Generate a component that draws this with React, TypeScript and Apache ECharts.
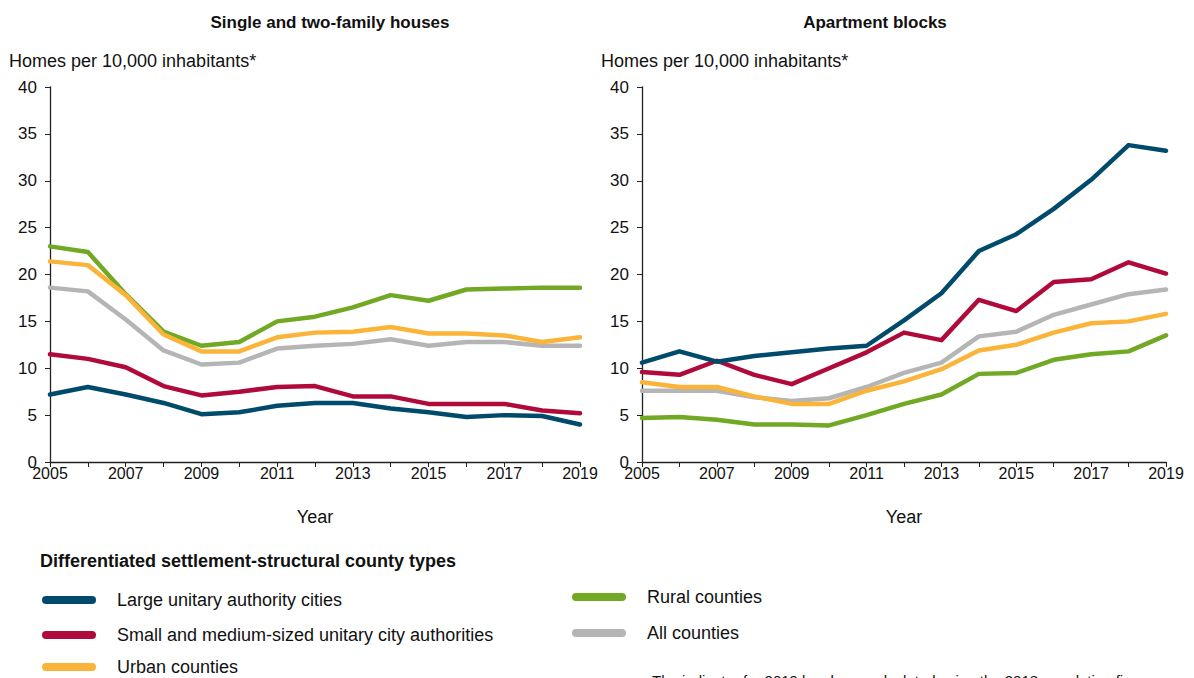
import React, { useEffect, useRef } from "react";
import * as echarts from "echarts";

const years = ["2005","2006","2007","2008","2009","2010","2011","2012","2013","2014","2015","2016","2017","2018","2019"];

const seriesNames = [
  "Large unitary authority cities",
  "Small and medium-sized unitary city authorities",
  "Urban counties",
  "Rural counties",
  "All counties",
];
const colors = ["#004b6b", "#b00a3b", "#fbb43a", "#71a824", "#b5b5b5"];

// Single and two-family houses
const houseLarge = [7.2, 8.0, 7.2, 6.3, 5.1, 5.3, 6.0, 6.3, 6.3, 5.7, 5.3, 4.8, 5.0, 4.9, 4.0];
const houseSmall = [11.5, 11.0, 10.1, 8.1, 7.1, 7.5, 8.0, 8.1, 7.0, 7.0, 6.2, 6.2, 6.2, 5.5, 5.2];
const houseUrban = [21.4, 21.0, 17.8, 13.6, 11.8, 11.8, 13.3, 13.8, 13.9, 14.4, 13.7, 13.7, 13.5, 12.8, 13.3];
const houseRural = [23.0, 22.4, 17.9, 13.9, 12.4, 12.8, 15.0, 15.5, 16.5, 17.8, 17.2, 18.4, 18.5, 18.6, 18.6];
const houseAll = [18.6, 18.2, 15.2, 11.9, 10.4, 10.6, 12.1, 12.4, 12.6, 13.1, 12.4, 12.8, 12.8, 12.4, 12.4];

// Apartment blocks
const aptLarge = [10.6, 11.8, 10.7, 11.3, 11.7, 12.1, 12.4, 15.1, 18.0, 22.5, 24.3, 27.0, 30.1, 33.8, 33.2];
const aptSmall = [9.6, 9.3, 10.8, 9.3, 8.3, 10.0, 11.7, 13.8, 13.0, 17.3, 16.1, 19.2, 19.5, 21.3, 20.1];
const aptUrban = [8.5, 8.0, 8.0, 7.0, 6.2, 6.2, 7.6, 8.6, 9.9, 11.9, 12.5, 13.8, 14.8, 15.0, 15.8];
const aptRural = [4.7, 4.8, 4.5, 4.0, 4.0, 3.9, 5.0, 6.2, 7.2, 9.4, 9.5, 10.9, 11.5, 11.8, 13.5];
const aptAll = [7.6, 7.6, 7.6, 6.9, 6.5, 6.8, 8.0, 9.5, 10.6, 13.4, 13.9, 15.7, 16.8, 17.9, 18.4];

const panelTitles = ["Single and two-family houses", "Apartment blocks"];
const yAxisTitle = "Homes per 10,000 inhabitants*";
const xAxisTitle = "Year";
const legendTitle = "Differentiated settlement-structural county types";
const footnote = "The indicator for 2019 has been calculated using the 2018 population figures";

const FONT = "'Liberation Sans Narrow', 'Arial Narrow', 'Liberation Sans', sans-serif";

export default function App() {
  const ref = useRef<HTMLDivElement>(null);
  useEffect(() => {
    if (!ref.current) return;
    const chart = echarts.init(ref.current, undefined, { renderer: "svg" });
    const houseData = [houseLarge, houseSmall, houseUrban, houseRural, houseAll];
    const aptData = [aptLarge, aptSmall, aptUrban, aptRural, aptAll];
    const mkX = (gi: number) => ({
      type: "category" as const,
      gridIndex: gi,
      data: years,
      boundaryGap: false,
      axisLine: { lineStyle: { color: "#222", width: 1.3 } },
      axisTick: { interval: 0, length: 5, lineStyle: { color: "#222" } },
      axisLabel: { interval: 1, color: "#111", fontSize: 16, fontFamily: FONT, margin: 3 },
      name: xAxisTitle,
      nameLocation: "middle" as const,
      nameGap: 46,
      nameTextStyle: { color: "#111", fontSize: 18, fontFamily: FONT },
    });
    const mkY = (gi: number) => ({
      type: "value" as const,
      gridIndex: gi,
      min: 0,
      max: 40,
      interval: 5,
      splitLine: { show: false },
      axisLine: { show: true, lineStyle: { color: "#222", width: 1.3 } },
      axisTick: { show: true, length: 5, lineStyle: { color: "#222" } },
      axisLabel: { color: "#111", fontSize: 17, fontFamily: FONT, margin: 13 },
    });
    const series: any[] = [];
    [houseData, aptData].forEach((set, gi) => {
      set.forEach((d, i) => {
        series.push({
          type: "line",
          name: seriesNames[i],
          xAxisIndex: gi,
          yAxisIndex: gi,
          data: d,
          showSymbol: false,
          symbol: "none",
          z: 10 - i,
          lineStyle: { color: colors[i], width: 4.5, cap: "round", join: "round" },
          itemStyle: { color: colors[i] },
        });
      });
    });
    const icon = "path://M4,0 H50 A4,4 0 0 1 50,8 H4 A4,4 0 0 1 4,0 Z";
    const legendPos = [
      { left: 42, top: 591 },
      { left: 42, top: 626 },
      { left: 42, top: 658 },
      { left: 572, top: 588 },
      { left: 572, top: 624 },
    ];
    const legends = seriesNames.map((n, i) => ({
      ...legendPos[i],
      orient: "horizontal" as const,
      icon,
      itemWidth: 54,
      itemHeight: 8,
      selectedMode: false,
      padding: 0,
      data: [n],
      textStyle: { color: "#111", fontSize: 18, fontFamily: FONT, padding: [0, 0, 0, 16] },
    }));
    chart.setOption({
      animation: false,
      color: colors,
      title: [
        { text: panelTitles[0], left: 325, top: 9, textAlign: "center", textStyle: { fontSize: 17, fontWeight: "bold", color: "#111", fontFamily: FONT } },
        { text: panelTitles[1], left: 870, top: 9, textAlign: "center", textStyle: { fontSize: 17, fontWeight: "bold", color: "#111", fontFamily: FONT } },
      ],
      grid: [
        { left: 50, right: 614, top: 87, bottom: 216 },
        { left: 642, right: 28, top: 87, bottom: 216 },
      ],
      xAxis: [mkX(0), mkX(1)],
      yAxis: [mkY(0), mkY(1)],
      legend: legends,
      graphic: [
        { type: "text", left: 9, top: 52, style: { text: yAxisTitle, fontSize: 18, fill: "#111", fontFamily: FONT } },
        { type: "text", left: 601, top: 52, style: { text: yAxisTitle, fontSize: 18, fill: "#111", fontFamily: FONT } },
        { type: "text", left: 40, top: 552, style: { text: legendTitle, fontSize: 18, fontWeight: "bold", fill: "#111", fontFamily: FONT } },
        { type: "text", left: 652, top: 673, style: { text: footnote, fontSize: 15, fill: "#111", fontFamily: FONT } },
      ],
      series,
    });
    return () => chart.dispose();
  }, []);
  return <div ref={ref} style={{ width: 1194, height: 678, position: "absolute", left: 0, top: 0 }} />;
}
